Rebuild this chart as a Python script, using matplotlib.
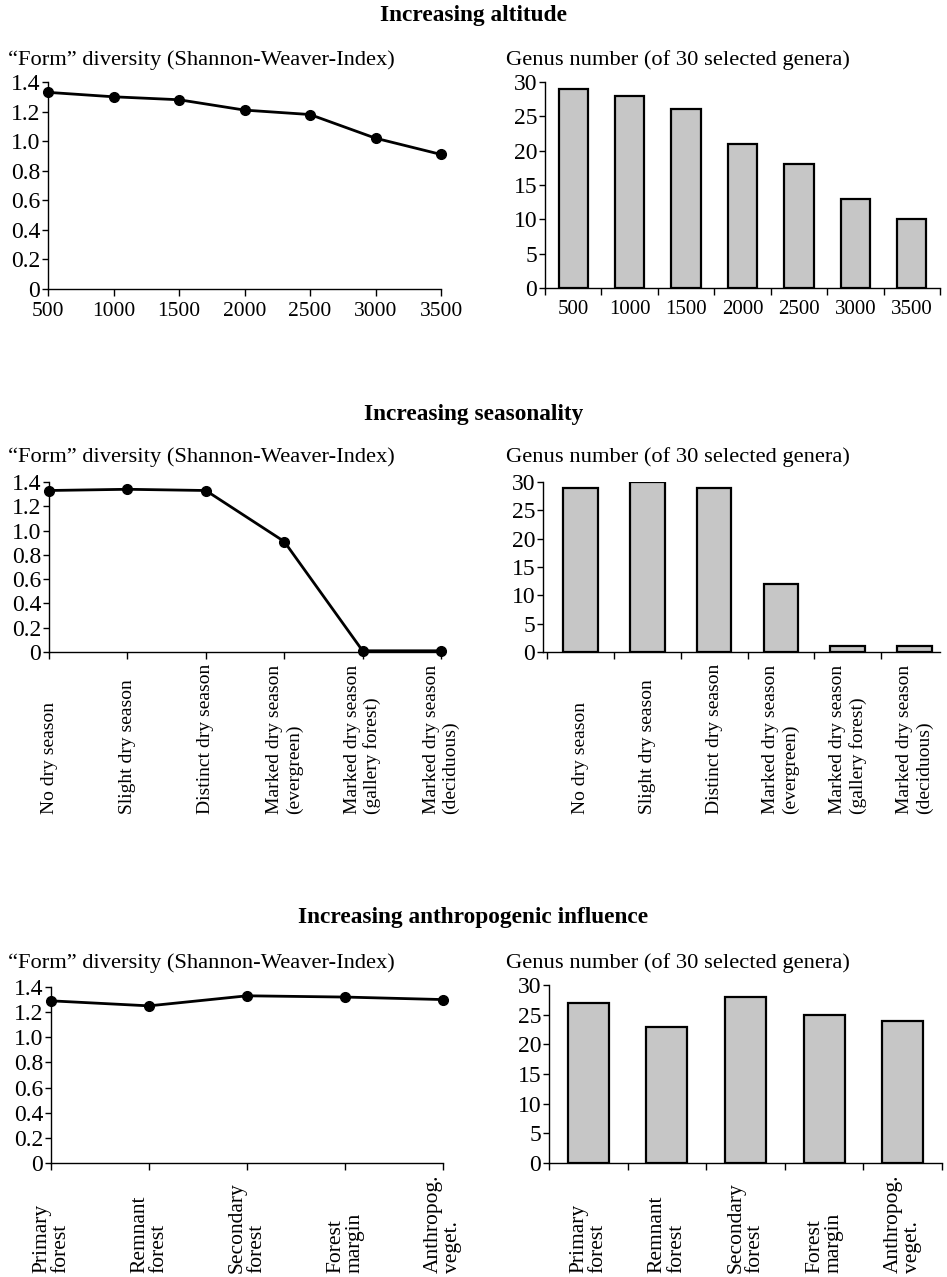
import numpy as np
import matplotlib
matplotlib.use("Agg")
import matplotlib.pyplot as plt
from matplotlib.ticker import FuncFormatter
from matplotlib.transforms import blended_transform_factory

plt.rcParams['font.family'] = ['Liberation Serif', 'DejaVu Serif']
plt.rcParams['font.size'] = 15

# --- data ---
altitude = [500, 1000, 1500, 2000, 2500, 3000, 3500]
alt_form = [1.33, 1.30, 1.28, 1.21, 1.18, 1.02, 0.91]
alt_genus = [29, 28, 26, 21, 18, 13, 10]

season_labels = ["No dry season", "Slight dry season", "Distinct dry season",
                 "Marked dry season\n(evergreen)", "Marked dry season\n(gallery forest)",
                 "Marked dry season\n(deciduous)"]
season_form = [1.33, 1.34, 1.33, 0.91, 0.01, 0.01]
season_genus = [29, 30, 29, 12, 1, 1]

anthro_labels = ["Primary\nforest", "Remnant\nforest", "Secondary\nforest",
                 "Forest\nmargin", "Anthropog.\nveget."]
anthro_form = [1.29, 1.25, 1.33, 1.32, 1.30]
anthro_genus = [27, 23, 28, 25, 24]

titles = ["Increasing altitude", "Increasing seasonality",
          "Increasing anthropogenic influence"]
form_label = "\u201cForm\u201d diversity (Shannon-Weaver-Index)"
genus_label = "Genus number (of 30 selected genera)"

W, H = 947, 1277
fig = plt.figure(figsize=(W / 100, H / 100), dpi=100)


def box(x0, x1, ytop, ybot):
    return [x0 / W, 1 - ybot / H, (x1 - x0) / W, (ybot - ytop) / H]


def style(ax):
    for s in ['top', 'right']:
        ax.spines[s].set_visible(False)
    for s in ['left', 'bottom']:
        ax.spines[s].set_linewidth(1.0)
    ax.tick_params(axis='y', direction='out', length=4, width=1, pad=1.5, labelsize=17)
    ax.tick_params(axis='x', direction='out', length=5, width=1, pad=4, labelsize=15.5)


def form_axis(ax):
    ax.set_ylim(0, 1.4)
    ax.set_yticks(np.arange(0, 1.41, 0.2))
    ax.yaxis.set_major_formatter(FuncFormatter(lambda v, p: '0' if abs(v) < 1e-9 else f'{v:.1f}'))


def genus_axis(ax):
    ax.set_ylim(0, 30)
    ax.set_yticks(range(0, 31, 5))


def line(ax, x, y):
    ax.plot(x, y, color='black', lw=2, marker='o', ms=7, clip_on=False, zorder=3)


def bars(ax, y):
    pos = np.arange(len(y)) + 0.5
    ax.bar(pos, y, width=0.52, color='#c6c6c6', edgecolor='black', linewidth=1.6, zorder=3)
    return pos


def rot_labels(ax, pos, labels, ybot, size, spacing):
    tr = blended_transform_factory(ax.transData, fig.transFigure)
    for p, lab in zip(pos, labels):
        ax.text(p, 1 - ybot / H, lab, transform=tr, rotation=90, ha='center',
                va='bottom', multialignment='left', fontsize=size, linespacing=spacing)


# titles and axis captions
for t, y in zip(titles, [15, 414, 918]):
    fig.text(0.5, 1 - y / H, t, ha='center', va='center', fontsize=16.8, fontweight='bold')
for y in [60, 457, 963]:
    fig.text(8 / W, 1 - y / H, form_label, ha='left', va='center', fontsize=16.2)
    fig.text(506 / W, 1 - y / H, genus_label, ha='left', va='center', fontsize=16.2)

# row 1: altitude
ax = fig.add_axes(box(48, 441, 82, 289))
style(ax)
line(ax, altitude, alt_form)
form_axis(ax)
ax.set_xlim(500, 3500)
ax.set_xticks(altitude)

ax = fig.add_axes(box(545, 940, 82, 288))
style(ax)
pos = bars(ax, alt_genus)
genus_axis(ax)
ax.set_xlim(0, 7)
ax.set_xticks(range(8))
ax.set_xticklabels([])
ax.set_xticks(pos, minor=True)
ax.set_xticklabels(altitude, minor=True)
ax.tick_params(axis='x', which='minor', length=0, pad=9)

# row 2: seasonality
ax = fig.add_axes(box(49, 441, 482, 652))
style(ax)
x = np.arange(len(season_form))
line(ax, x, season_form)
form_axis(ax)
ax.set_xlim(0, 5)
ax.set_xticks(x)
ax.set_xticklabels([])
rot_labels(ax, x, season_labels, 814, 14, 1.2)

ax = fig.add_axes(box(543, 940, 482, 652))
style(ax)
pos = bars(ax, season_genus)
genus_axis(ax)
ax.set_xlim(-0.06, 5.88)
ax.set_xticks(range(6))
ax.set_xticklabels([])
rot_labels(ax, pos, season_labels, 814, 14, 1.2)

# row 3: anthropogenic influence
ax = fig.add_axes(box(51, 443, 987, 1163))
style(ax)
x = np.arange(len(anthro_form))
line(ax, x, anthro_form)
form_axis(ax)
ax.set_xlim(0, 4)
ax.set_xticks(x)
ax.set_xticklabels([])
rot_labels(ax, x, anthro_labels, 1273, 15.5, 1.0)

ax = fig.add_axes(box(549, 942, 985, 1163))
style(ax)
pos = bars(ax, anthro_genus)
genus_axis(ax)
ax.set_xlim(0, 5)
ax.set_xticks(range(6))
ax.set_xticklabels([])
rot_labels(ax, pos, anthro_labels, 1273, 15.5, 1.0)

fig.savefig("out.png", dpi=100)
